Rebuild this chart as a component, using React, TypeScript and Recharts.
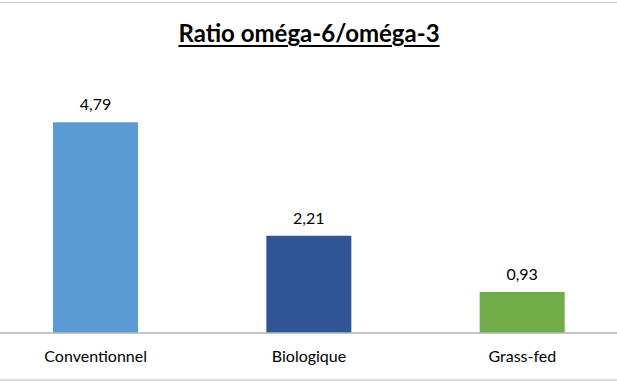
import React from 'react';
import { BarChart, Bar, XAxis, YAxis, Cell, LabelList } from 'recharts';

const categories = ['Conventionnel', 'Biologique', 'Grass-fed'];
const ratios = [4.79, 2.21, 0.93];
const title = 'Ratio oméga-6/oméga-3';

const COLORS = ['#5B9BD5', '#2F5597', '#70AD47'];
const FONT = 'Lato, "Liberation Sans", sans-serif';

const data = categories.map((name, i) => ({ name, value: ratios[i] }));

const fmt = (v: any) => Number(v).toFixed(2).replace('.', ',');

export default function App() {
  return (
    <div
      style={{
        position: 'fixed',
        top: 0,
        left: 0,
        width: 617,
        height: 381,
        overflow: 'hidden',
        background: '#ffffff',
        fontFamily: FONT,
      }}
    >
      <div style={{ position: 'absolute', top: 2, left: 0, width: 617, height: 1, background: '#c6c6c6' }} />
      <div style={{ position: 'absolute', top: 379, left: 0, width: 617, height: 2, background: '#d9d9d9' }} />
      <div
        style={{
          position: 'absolute',
          top: 18,
          left: 0,
          width: 618,
          textAlign: 'center',
          fontSize: 24,
          fontWeight: 700,
          textDecoration: 'underline',
          textUnderlineOffset: 3,
          textDecorationThickness: 2,
          color: '#000',
          lineHeight: '30px',
          zIndex: 2,
        }}
      >
        {title}
      </div>
      <div style={{ position: 'absolute', top: 0, left: -11, zIndex: 1 }}>
        <BarChart
          width={640}
          height={381}
          data={data}
          margin={{ top: 69, right: 0, bottom: 18, left: 0 }}
          barCategoryGap="30%"
        >
          <XAxis
            dataKey="name"
            height={30}
            tickLine={false}
            tickSize={0}
            tickMargin={18}
            axisLine={{ stroke: '#b4b4b4', strokeWidth: 1.5 }}
            tick={{ fill: '#000', fontSize: 16, fontFamily: FONT }}
            interval={0}
          />
          <YAxis hide domain={[0, 6]} />
          <Bar dataKey="value" isAnimationActive={false}>
            {data.map((d, i) => (
              <Cell key={d.name} fill={COLORS[i]} />
            ))}
            <LabelList
              dataKey="value"
              position="top"
              offset={12}
              formatter={fmt}
              style={{ fill: '#000', fontSize: 16, fontFamily: FONT }}
            />
          </Bar>
        </BarChart>
      </div>
    </div>
  );
}
